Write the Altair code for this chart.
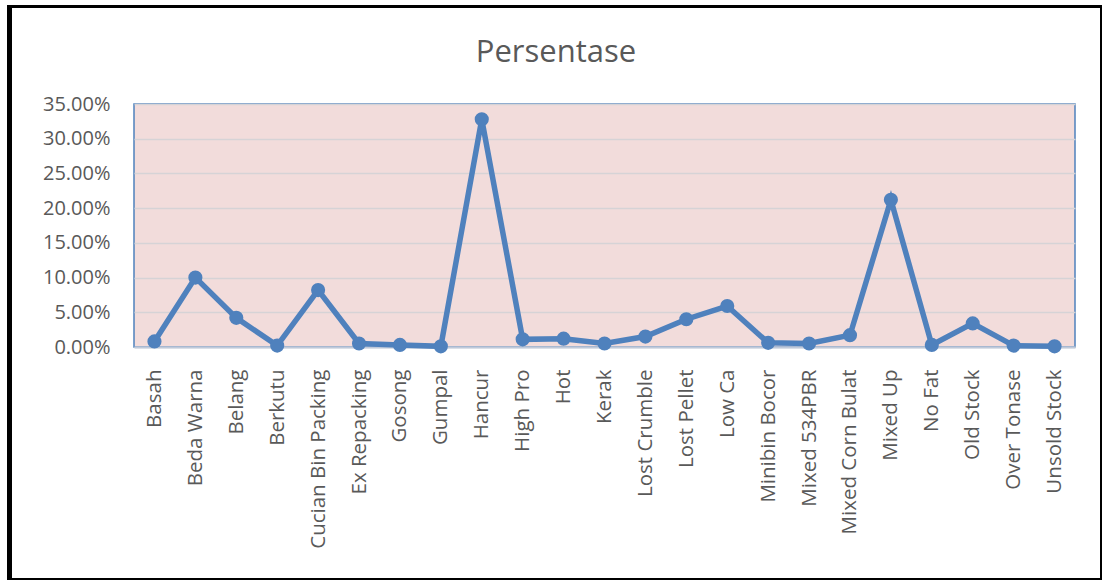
import altair as alt
import pandas as pd

categories = ["Basah", "Beda Warna", "Belang", "Berkutu", "Cucian Bin Packing",
              "Ex Repacking", "Gosong", "Gumpal", "Hancur", "High Pro", "Hot",
              "Kerak", "Lost Crumble", "Lost Pellet", "Low Ca", "Minibin Bocor",
              "Mixed 534PBR", "Mixed Corn Bulat", "Mixed Up", "No Fat",
              "Old Stock", "Over Tonase", "Unsold Stock"]
persen = [0.8, 10.0, 4.2, 0.2, 8.2, 0.5, 0.3, 0.1, 32.8, 1.1, 1.2, 0.5, 1.5,
          4.0, 5.9, 0.6, 0.5, 1.7, 21.2, 0.3, 3.4, 0.2, 0.1]
y_ticks = [0, 0.05, 0.10, 0.15, 0.20, 0.25, 0.30, 0.35]
title_text = "Persentase"

df = pd.DataFrame({"Kategori": categories, "Persentase": [v / 100 for v in persen]})

BLUE = "#4F81BD"
TXT = "#595959"
FONT = "Open Sans"

x_enc = alt.X("Kategori:N", sort=None,
              scale=alt.Scale(type="point", padding=0.5),
              axis=alt.Axis(title=None, labelAngle=-90, labelFont=FONT, labelFontSize=20.5,
                            labelColor=TXT, labelPadding=22, ticks=False,
                            domain=True, domainColor="#BFC9DA", domainWidth=2,
                            grid=False, labelAlign="right", labelBaseline="middle"))
y_enc = alt.Y("Persentase:Q",
              scale=alt.Scale(domain=[0, 0.35], nice=False),
              axis=alt.Axis(title=None, values=y_ticks, format=".2%", labelFont=FONT,
                            labelFontSize=20, labelColor=TXT, labelPadding=24,
                            ticks=False, domain=False, grid=True, gridColor="#D6D3D6",
                            gridWidth=1.3))

base = alt.Chart(df)
line = base.mark_line(color=BLUE, strokeWidth=5.5).encode(x=x_enc, y=y_enc)
pts = base.mark_circle(color=BLUE, size=200, opacity=1).encode(x=x_enc, y=y_enc)

one = alt.Chart(pd.DataFrame({"a": [0]}))
title = one.mark_text(font=FONT, fontSize=31, color=TXT, align="center",
                      baseline="alphabetic").encode(
    x=alt.value(422), y=alt.value(-42), text=alt.value(title_text))
frame_left = one.mark_rule(color="black", strokeWidth=5).encode(
    x=alt.value(-124.5), y=alt.value(-99), y2=alt.value(476))
frame_top = one.mark_rule(color="black", strokeWidth=3).encode(
    y=alt.value(-97.5), x=alt.value(-127), x2=alt.value(968))
frame_right = one.mark_rule(color="black", strokeWidth=2).encode(
    x=alt.value(967), y=alt.value(-99), y2=alt.value(476))
frame_bottom = one.mark_rule(color="black", strokeWidth=2).encode(
    y=alt.value(475), x=alt.value(-127), x2=alt.value(968))

chart = alt.layer(line, pts, title, frame_left, frame_top, frame_right, frame_bottom).properties(
    width=941, height=243,
    autosize=alt.AutoSizeParams(type="none"),
    padding={"left": 134, "top": 104, "right": 27, "bottom": 234},
    background="white",
).configure_view(fill="#F2DCDB", stroke=BLUE, strokeWidth=1.5)

chart.save("out.html", embed_options={"renderer": "svg", "actions": False})
